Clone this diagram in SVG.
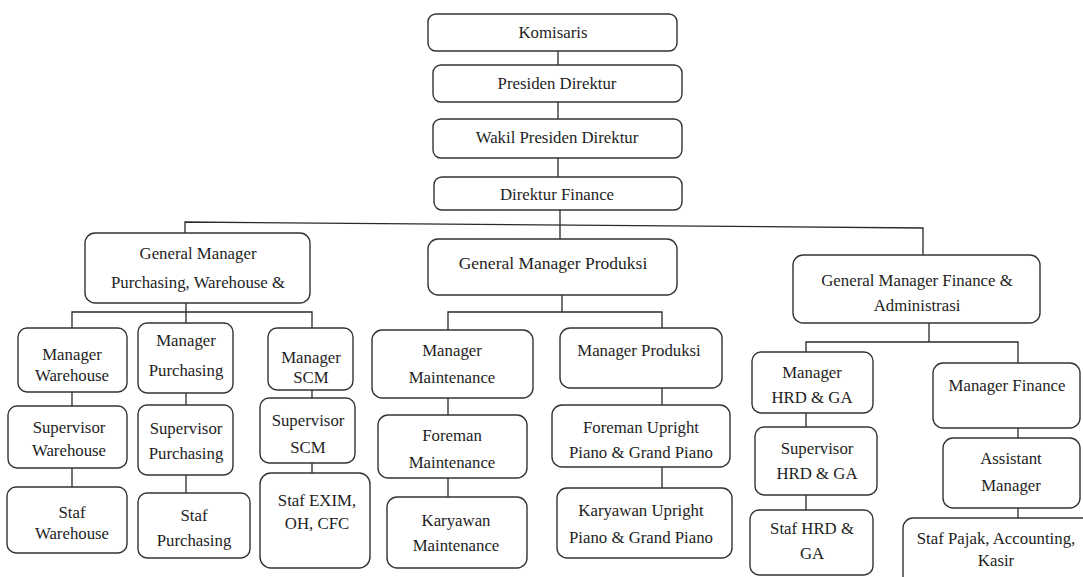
<svg xmlns="http://www.w3.org/2000/svg" width="1083" height="577" viewBox="0 0 1083 577">
  <style>
    .box { fill: #ffffff; stroke: #333333; stroke-width: 1.4; }
    .lbl { font-family: "Liberation Serif", "Times New Roman", "DejaVu Serif", serif; font-size: 16.8px; fill: #1e1e1e; text-anchor: middle; }
    .big { font-size: 17.5px; }
    .wire { fill: none; stroke: #2a2a2a; stroke-width: 1.3; }
  </style>
  <rect width="1083" height="577" fill="#ffffff"/>

  <!-- connectors -->
  <g id="connectors" class="wire">
    <path d="M558 51V65M558 102V119M558 158V177M560 210V239"/>
    <path d="M185 234V222L923 228V255"/>
    <!-- purchasing / warehouse branch -->
    <path d="M186 303V312M72 328V312H312V328M186 312V323"/>
    <path d="M72 392V406M72 468V487M186 393V405M186 475V493M312 390V398M312 463V473"/>
    <!-- production branch -->
    <path d="M562 295V312M448 330V312H662V328"/>
    <path d="M448 398V415M448 478V497M662 388V405M662 467V488"/>
    <!-- finance branch -->
    <path d="M929 323V342M806 352V342H1018V363"/>
    <path d="M806 413V427M806 495V510M1018 428V438M1018 508V518"/>
  </g>

  <!-- board and directors -->
  <g id="komisaris"><rect class="box" x="428" y="14" width="249" height="37" rx="8"/><text class="lbl" x="553" y="38">Komisaris</text></g>
  <g id="presiden-direktur"><rect class="box" x="433" y="65" width="249" height="37" rx="8"/><text class="lbl" x="557" y="89">Presiden Direktur</text></g>
  <g id="wakil-presiden-direktur"><rect class="box" x="433" y="119" width="249" height="39" rx="8"/><text class="lbl" x="557" y="143">Wakil Presiden Direktur</text></g>
  <g id="direktur-finance"><rect class="box" x="434" y="177" width="248" height="33" rx="8"/><text class="lbl" x="557" y="200">Direktur Finance</text></g>

  <!-- general managers -->
  <g id="gm-purchasing"><rect class="box" x="85" y="233" width="225" height="70" rx="10"/><text class="lbl" x="198" y="259">General Manager</text><text class="lbl" x="198" y="288">Purchasing, Warehouse &amp;</text></g>
  <g id="gm-produksi"><rect class="box" x="428" y="239" width="249" height="56" rx="10"/><text class="lbl big" x="553" y="269">General Manager Produksi</text></g>
  <g id="gm-finance"><rect class="box" x="793" y="255" width="247" height="68" rx="10"/><text class="lbl" x="917" y="286">General Manager Finance &amp;</text><text class="lbl" x="917" y="311">Administrasi</text></g>

  <!-- purchasing / warehouse / SCM -->
  <g id="manager-warehouse"><rect class="box" x="18" y="328" width="109" height="64" rx="9"/><text class="lbl" x="72" y="360">Manager</text><text class="lbl" x="72" y="381">Warehouse</text></g>
  <g id="supervisor-warehouse"><rect class="box" x="8" y="406" width="119" height="62" rx="9"/><text class="lbl" x="69" y="433">Supervisor</text><text class="lbl" x="69" y="456">Warehouse</text></g>
  <g id="staf-warehouse"><rect class="box" x="7" y="487" width="120" height="66" rx="9"/><text class="lbl" x="72" y="518">Staf</text><text class="lbl" x="72" y="539">Warehouse</text></g>

  <g id="manager-purchasing"><rect class="box" x="138" y="323" width="95" height="70" rx="9"/><text class="lbl" x="186" y="346">Manager</text><text class="lbl" x="186" y="376">Purchasing</text></g>
  <g id="supervisor-purchasing"><rect class="box" x="138" y="405" width="95" height="70" rx="9"/><text class="lbl" x="186" y="434">Supervisor</text><text class="lbl" x="186" y="459">Purchasing</text></g>
  <g id="staf-purchasing"><rect class="box" x="138" y="493" width="112" height="65" rx="9"/><text class="lbl" x="194" y="521">Staf</text><text class="lbl" x="194" y="546">Purchasing</text></g>

  <g id="manager-scm"><rect class="box" x="268" y="328" width="85" height="62" rx="9"/><text class="lbl" x="311" y="363">Manager</text><text class="lbl" x="311" y="383">SCM</text></g>
  <g id="supervisor-scm"><rect class="box" x="260" y="398" width="95" height="65" rx="9"/><text class="lbl" x="308" y="426">Supervisor</text><text class="lbl" x="308" y="453">SCM</text></g>
  <g id="staf-exim"><rect class="box" x="260" y="473" width="110" height="95" rx="11"/><text class="lbl" x="317" y="506">Staf EXIM,</text><text class="lbl" x="317" y="529">OH, CFC</text></g>

  <!-- production -->
  <g id="manager-maintenance"><rect class="box" x="372" y="330" width="161" height="68" rx="10"/><text class="lbl" x="452" y="356">Manager</text><text class="lbl" x="452" y="383">Maintenance</text></g>
  <g id="foreman-maintenance"><rect class="box" x="378" y="415" width="149" height="63" rx="10"/><text class="lbl" x="452" y="441">Foreman</text><text class="lbl" x="452" y="468">Maintenance</text></g>
  <g id="karyawan-maintenance"><rect class="box" x="387" y="497" width="140" height="71" rx="10"/><text class="lbl" x="456" y="526">Karyawan</text><text class="lbl" x="456" y="551">Maintenance</text></g>

  <g id="manager-produksi"><rect class="box" x="560" y="328" width="162" height="60" rx="10"/><text class="lbl" x="639" y="356">Manager Produksi</text></g>
  <g id="foreman-upright"><rect class="box" x="552" y="405" width="178" height="62" rx="10"/><text class="lbl" x="641" y="433">Foreman Upright</text><text class="lbl" x="641" y="458">Piano &amp; Grand Piano</text></g>
  <g id="karyawan-upright"><rect class="box" x="557" y="488" width="175" height="70" rx="10"/><text class="lbl" x="641" y="516">Karyawan Upright</text><text class="lbl" x="641" y="543">Piano &amp; Grand Piano</text></g>

  <!-- finance and administration -->
  <g id="manager-hrd"><rect class="box" x="752" y="352" width="121" height="61" rx="9"/><text class="lbl" x="812" y="378">Manager</text><text class="lbl" x="812" y="403">HRD &amp; GA</text></g>
  <g id="supervisor-hrd"><rect class="box" x="755" y="427" width="122" height="68" rx="9"/><text class="lbl" x="817" y="454">Supervisor</text><text class="lbl" x="817" y="479">HRD &amp; GA</text></g>
  <g id="staf-hrd"><rect class="box" x="750" y="510" width="123" height="65" rx="9"/><text class="lbl" x="812" y="534">Staf HRD &amp;</text><text class="lbl" x="812" y="559">GA</text></g>

  <g id="manager-finance"><rect class="box" x="933" y="363" width="147" height="65" rx="10"/><text class="lbl" x="1007" y="391">Manager Finance</text></g>
  <g id="assistant-manager"><rect class="box" x="943" y="438" width="137" height="70" rx="10"/><text class="lbl" x="1011" y="464">Assistant</text><text class="lbl" x="1011" y="491">Manager</text></g>
  <g id="staf-pajak"><rect class="box" x="903" y="518" width="200" height="80" rx="10"/><text class="lbl" x="996" y="544">Staf Pajak, Accounting,</text><text class="lbl" x="996" y="566">Kasir</text></g>
</svg>
